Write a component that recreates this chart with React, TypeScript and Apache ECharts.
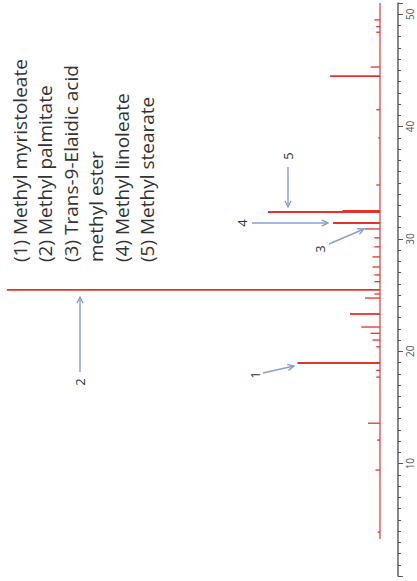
import React, { useEffect, useRef } from "react";
import * as echarts from "echarts";

// Retention time (min) of each peak and its height (% of the largest peak)
const peakTimes = [
  3.9, 9.43, 12.1, 13.6, 17.7, 18.3, 18.96, 20.4, 21.0, 21.6, 22.16, 23.32,
  24.74, 25.1, 25.46, 26.2, 26.8, 27.5, 28.4, 29.3, 30.1, 30.89, 31.42, 32.4,
  32.5, 34.8, 39.0, 41.5, 44.5, 45.3, 48.4, 48.9, 49.5,
];
const peakHeights = [
  0.6, 1.2, 0.8, 3.2, 1.0, 1.0, 22, 1.0, 2.0, 2.5, 5.0, 8.0,
  4.0, 1.5, 99.5, 1.5, 1.5, 2.0, 2.0, 1.5, 1.5, 4.0, 12.5, 29.9,
  10, 1.0, 0.5, 1.0, 13.3, 2.5, 1.0, 1.0, 1.5,
];
const baselineTimes = [3.3, 51];
const timeTickLabels = [10, 20, 30, 40, 50];
const compoundLabels = [
  "(1) Methyl myristoleate",
  "(2) Methyl palmitate",
  "(3) Trans-9-Elaidic acid",
  "methyl ester",
  "(4) Methyl linoleate",
  "(5) Methyl stearate",
];
const peakNumbers = ["1", "2", "3", "4", "5"];

const RED = "#e5322d";
const ARROW = "#86a0d2";
const TEXT = "#333333";

function arrow(x1: number, y1: number, x2: number, y2: number) {
  const ang = Math.atan2(y2 - y1, x2 - x1);
  const L = 7;
  const a = 0.45;
  const p1 = [x2 - L * Math.cos(ang - a), y2 - L * Math.sin(ang - a)];
  const p2 = [x2 - L * Math.cos(ang + a), y2 - L * Math.sin(ang + a)];
  return [
    { type: "line", shape: { x1, y1, x2, y2 }, style: { stroke: ARROW, lineWidth: 1.4 } },
    {
      type: "polyline",
      shape: { points: [p1, [x2, y2], p2] },
      style: { stroke: ARROW, lineWidth: 1.4, fill: null },
    },
  ];
}

function numLabel(text: string, x: number, y: number) {
  return {
    type: "text",
    x,
    y,
    rotation: Math.PI / 2,
    style: {
      text,
      fontSize: 13,
      fontFamily: "Open Sans",
      fill: TEXT,
      align: "center",
      verticalAlign: "middle",
    },
  };
}

export default function App() {
  const ref = useRef<HTMLDivElement>(null);
  useEffect(() => {
    if (!ref.current) return;
    const chart = echarts.init(ref.current, null, { renderer: "svg" });
    const peakData = peakTimes.map((t, i) => [peakHeights[i], t]);
    const arrows = [
      { from: [263, 373], to: [294, 366], label: [255, 375] },
      { from: [80, 372], to: [80, 297], label: [80, 382] },
      { from: [329, 244], to: [364, 229], label: [320, 249] },
      { from: [252, 223], to: [328, 223], label: [242, 223] },
      { from: [288, 167], to: [288, 207], label: [288, 156] },
    ];
    const graphics: any[] = [];
    arrows.forEach((a, i) => {
      graphics.push(...arrow(a.from[0], a.from[1], a.to[0], a.to[1]));
      graphics.push(numLabel(peakNumbers[i], a.label[0], a.label[1]));
    });
    graphics.push({
      type: "group",
      x: 20,
      y: 262,
      rotation: Math.PI / 2,
      children: compoundLabels.map((s, i) => ({
        type: "text",
        x: 0,
        y: i * 25.4,
        style: {
          text: s,
          fontSize: 19,
          fontFamily: "Open Sans",
          fill: TEXT,
          align: "left",
          verticalAlign: "middle",
        },
      })),
    });

    chart.setOption({
      animation: false,
      backgroundColor: "#ffffff",
      grid: { left: 5, right: 19, top: 3, bottom: 5 },
      xAxis: {
        type: "value",
        min: -4.8,
        max: 100,
        inverse: true,
        show: false,
        splitLine: { show: false },
      },
      yAxis: {
        type: "value",
        position: "right",
        min: 0,
        max: 51,
        interval: 10,
        axisLine: { show: true, onZero: false, lineStyle: { color: "#6b6b6b", width: 1.6 } },
        axisTick: { show: true, inside: false, length: 5, lineStyle: { color: "#555" } },
        minorTick: { show: true, splitNumber: 10, length: 3, lineStyle: { color: "#555" } },
        splitLine: { show: false },
        minorSplitLine: { show: false },
        axisLabel: {
          rotate: 90,
          margin: 7,
          fontSize: 10,
          fontFamily: "Open Sans",
          color: "#555",
          formatter: (v: number) => (timeTickLabels.includes(v) ? String(v) : ""),
        },
      },
      series: [
        {
          type: "line",
          data: baselineTimes.map((t) => [0, t]),
          symbol: "none",
          lineStyle: { color: RED, width: 1.2 },
          silent: true,
        },
        {
          type: "custom",
          data: peakData,
          silent: true,
          renderItem: (params: any, api: any) => {
            const h = api.value(0);
            const t = api.value(1);
            const p0 = api.coord([0, t]);
            const p1 = api.coord([h, t]);
            return {
              type: "line",
              shape: { x1: p0[0], y1: p0[1], x2: p1[0], y2: p1[1] },
              style: { stroke: RED, lineWidth: h > 5 ? 1.8 : 1.3 },
            };
          },
        },
      ],
      graphic: graphics,
    });
    return () => chart.dispose();
  }, []);
  return (
    <div
      ref={ref}
      style={{ position: "fixed", left: 0, top: 0, width: 417, height: 581 }}
    />
  );
}
